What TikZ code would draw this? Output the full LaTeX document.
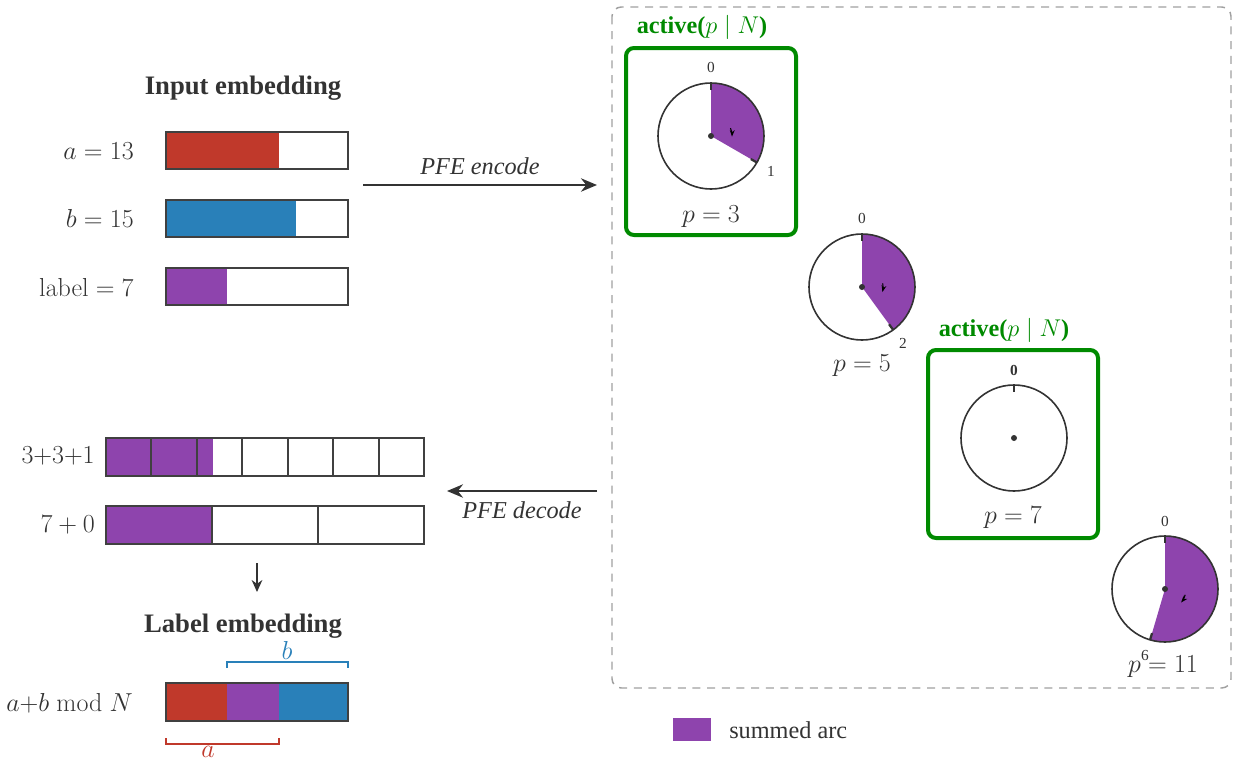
\RequirePackage{fix-cm}
\documentclass[tikz,border=0pt]{standalone}
\usepackage[no-math]{fontspec}
\setmainfont{Liberation Serif}
\usepackage{amsmath,amssymb}
\usetikzlibrary{arrows.meta}

\definecolor{barRed}{RGB}{192,57,43}
\definecolor{barBlue}{RGB}{41,128,185}
\definecolor{barPurple}{RGB}{142,68,173}
\definecolor{actGreen}{RGB}{0,138,0}
\definecolor{inkDark}{RGB}{64,64,64}
\definecolor{inkText}{RGB}{51,51,51}
\definecolor{boxGray}{RGB}{160,160,160}

\begin{document}
\begin{tikzpicture}[x=0.75pt,y=0.75pt,yscale=-1,xscale=1,
  every node/.style={inner sep=0.75pt,text=inkText},
  mathlbl/.style={font=\fontsize{19.5}{23}\selectfont},
  textlbl/.style={font=\fontsize{18.2}{22}\selectfont},
  headlbl/.style={font=\fontsize{20}{24}\selectfont\bfseries},
  ticklbl/.style={font=\fontsize{11.5}{14}\selectfont},
  barline/.style={draw=inkDark,line width=1.5pt},
  dial/.style={draw=inkText,line width=1.2pt},
  sector/.style={fill=barPurple},
  dialtick/.style={draw=inkText,line width=1.7pt},
  spin/.style={draw=black,line width=0.8pt,-{Stealth[length=5pt,width=3.6pt]}},
  activebox/.style={draw=actGreen,line width=3pt,rounded corners=6pt},
  flow/.style={draw=inkText,line width=1.8pt,-{Stealth[length=12pt,width=10pt]}}]
\useasboundingbox (0,0) rectangle (1235,761);

%Shape: Dashed frame
\draw [draw=boxGray,line width=1.1pt,dash pattern=on 6pt off 5pt,rounded corners=7pt] (612,7) rectangle (1231,688);

% Text Node
\node [headlbl] (inTitle) at (243,88) {Input embedding};

%Shape: Rectangle [a]
\fill [barRed] (166,132) rectangle (279,169);
\draw [barline] (166,132) rectangle (348,169);
%Shape: Rectangle [b]
\fill [barBlue] (166,200) rectangle (296,237);
\draw [barline] (166,200) rectangle (348,237);
%Shape: Rectangle [label]
\fill [barPurple] (166,268) rectangle (227,305);
\draw [barline] (166,268) rectangle (348,305);

% Text Node
\node [mathlbl,anchor=east] (aLbl) at (135,151) {$a = 13$};
% Text Node
\node [mathlbl,anchor=east] (bLbl) at (135,218) {$b = 15$};
% Text Node
\node [mathlbl,anchor=east] (yLbl) at (135,287) {$\mathrm{label} = 7$};

%Straight Lines [encode]
\coordinate (encA) at (363,185);
\coordinate (encB) at (597,185);
\draw [flow] (encA) -- (encB);
% Text Node
\node [textlbl] (encLbl) at (480,166) {\itshape PFE encode};

%Straight Lines [decode]
\coordinate (decA) at (597,491);
\coordinate (decB) at (447,491);
\draw [flow] (decA) -- (decB);
% Text Node
\node [textlbl] (decLbl) at (522,510) {\itshape PFE decode};

%Shape: Grid [3+3+1]
\fill [barPurple] (106,438) rectangle (212.7,476);
\draw [barline] (106,438) rectangle (424,476);
\draw [barline] (151.4,438) -- (151.4,476) (196.9,438) -- (196.9,476) (242.3,438) -- (242.3,476) (287.7,438) -- (287.7,476) (333.1,438) -- (333.1,476) (378.6,438) -- (378.6,476);
% Text Node
\node [mathlbl,anchor=east] (sumLbl) at (96,456) {$3{+}3{+}1$};

%Shape: Grid [7+0]
\fill [barPurple] (106,506) rectangle (212,544);
\draw [barline] (106,506) rectangle (424,544);
\draw [barline] (212,506) -- (212,544) (318,506) -- (318,544);
% Text Node
\node [mathlbl,anchor=east] (resLbl) at (96,525) {$7 + 0$};

%Straight Lines [down]
\coordinate (downA) at (257,563);
\coordinate (downB) at (257,592);
\draw [draw=inkText,line width=1.2pt,-{Stealth[length=9pt,width=8pt]}] (downA) -- (downB);

% Text Node
\node [headlbl] (outTitle) at (243,626) {Label embedding};

%Shape: Rectangle [a+b mod N]
\fill [barRed] (166,683) rectangle (227,721);
\fill [barPurple] (227,683) rectangle (279,721);
\fill [barBlue] (279,683) rectangle (348,721);
\draw [barline] (166,683) rectangle (348,721);
% Text Node
\node [mathlbl,anchor=east] (modLbl) at (134,703) {$a{+}b \bmod N$};

%Straight Lines [brace b]
\draw [draw=barBlue,line width=1.1pt] (227,668) -- (227,662) -- (348,662) -- (348,668);
\node [mathlbl,text=barBlue] (bBrace) at (287,650) {$b$};
%Straight Lines [brace a]
\draw [draw=barRed,line width=1.1pt] (166,738) -- (166,744) -- (279,744) -- (279,738);
\node [mathlbl,text=barRed] (aBrace) at (208,752) {$a$};

%Shape: Clock [p=3]
\draw [activebox] (626,48) rectangle (796,235);
\node [textlbl,text=actGreen] (act3) at (702,27) {\textbf{active(}$p \mid N$\textbf{)}};
\fill [sector] (711,136) -- ++(-90:53) arc[start angle=-90,end angle=30,radius=53] -- cycle;
\draw [dial] (711,136) circle[radius=53];
\draw [dialtick] (711,136) ++(-90:53) -- ++(-90:-7);
\draw [dialtick] (711,136) ++(30:53) -- ++(30:-7);
\fill [inkText] (711,136) circle[radius=3];
\draw [spin] (711,136) ++(-22:21) arc[start angle=-22,end angle=2,radius=21];
\node [ticklbl] (z3) at (711,67) {0};
\node [ticklbl] (e3) at (771,171) {1};
\node [mathlbl] (p3) at (711,217) {$p = 3$};

%Shape: Clock [p=5]
\fill [sector] (862,287) -- ++(-90:53) arc[start angle=-90,end angle=54,radius=53] -- cycle;
\draw [dial] (862,287) circle[radius=53];
\draw [dialtick] (862,287) ++(-90:53) -- ++(-90:-7);
\draw [dialtick] (862,287) ++(54:53) -- ++(54:-7);
\fill [inkText] (862,287) circle[radius=3];
\draw [spin] (862,287) ++(-10:21) arc[start angle=-10,end angle=14,radius=21];
\node [ticklbl] (z5) at (862,218) {0};
\node [ticklbl] (e5) at (903,343) {2};
\node [mathlbl] (p5) at (862,366) {$p = 5$};

%Shape: Clock [p=7]
\draw [activebox] (928,350) rectangle (1098,538);
\node [textlbl,text=actGreen] (act7) at (1004,330) {\textbf{active(}$p \mid N$\textbf{)}};
\draw [dial] (1014,438) circle[radius=53];
\draw [dialtick] (1014,438) ++(-90:53) -- ++(-90:-7);
\fill [inkText] (1014,438) circle[radius=3];
\node [ticklbl] (z7) at (1014,370) {\textbf{0}};
\node [mathlbl] (p7) at (1013,518) {$p = 7$};

%Shape: Clock [p=11]
\fill [sector] (1165,589) -- ++(-90:53) arc[start angle=-90,end angle=106.36,radius=53] -- cycle;
\draw [dial] (1165,589) circle[radius=53];
\draw [dialtick] (1165,589) ++(-90:53) -- ++(-90:-7);
\draw [dialtick] (1165,589) ++(106.36:53) -- ++(106.36:-7);
\fill [inkText] (1165,589) circle[radius=3];
\draw [spin] (1165,589) ++(16:21) arc[start angle=16,end angle=40,radius=21];
\node [ticklbl] (z11) at (1165,521) {0};
\node [ticklbl] (e11) at (1145,655) {6};
\node [mathlbl] (p11) at (1163,667) {$p = 11$};

%Shape: Legend
\fill [barPurple] (673,718) rectangle (711,741);
\node [textlbl,anchor=west] (legLbl) at (728,730) {summed arc};

\end{tikzpicture}
\end{document}
